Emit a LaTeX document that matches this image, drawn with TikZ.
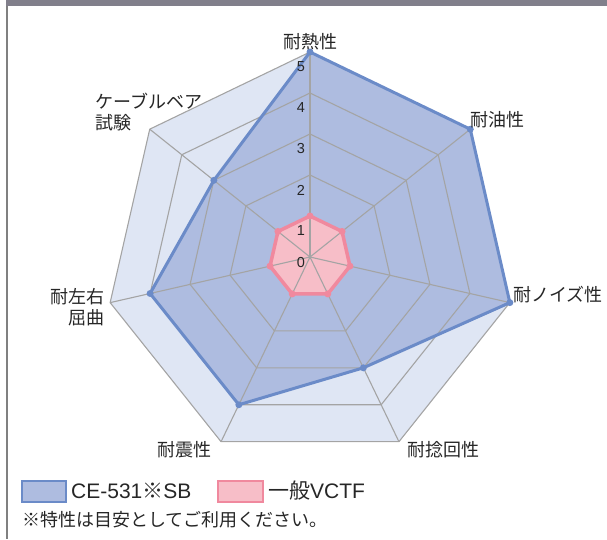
\documentclass[tikz,border=0pt]{standalone}
\usepackage{fontspec}
\setmainfont{Liberation Sans}
\newfontfamily\jp{Noto Sans CJK JP}

\definecolor{bargray}{HTML}{817F8B}
\definecolor{bandbg}{HTML}{DFE6F4}
\definecolor{gridgray}{HTML}{A4A4A4}
\definecolor{celine}{HTML}{6B8BC8}
\definecolor{cefill}{HTML}{AEBCE0}
\definecolor{vcline}{HTML}{F0899E}
\definecolor{vcfill}{HTML}{F7BEC8}

\begin{document}
\begin{tikzpicture}[x=1pt,y=1pt,
    grid/.style={gridgray,line width=1.1pt,line join=round},
    axislabel/.style={font=\jp\fontsize{18}{21}\selectfont,text=black!85,inner sep=0pt},
    ticklabel/.style={font=\fontsize{14.5}{16}\selectfont,text=black!85,inner sep=0pt},
    dot/.style={circle,inner sep=0pt,minimum size=7pt}]

    \useasboundingbox (-310,-282) rectangle (297,257);

    % frame
    \fill[bargray] (-304,251) rectangle (297,257);
    \draw[gray,line width=2pt] (-303,251) -- (-303,-282);

    % values, clockwise from the top
    \foreach \v [count=\k from 0] in {5,5,5,3,4,4,3}
        \coordinate (ce\k) at ({90-\k*360/7}:{\v*41});
    \foreach \v [count=\k from 0] in {1,1,1,1,1,1,1}
        \coordinate (vc\k) at ({90-\k*360/7}:{\v*41});

    % background and fills
    \fill[bandbg] (90:205) \foreach \k in {1,...,6} {-- ({90-\k*360/7}:205)} -- cycle;
    \fill[cefill] (ce0) -- (ce1) -- (ce2) -- (ce3) -- (ce4) -- (ce5) -- (ce6) -- cycle;
    \fill[vcfill] (vc0) -- (vc1) -- (vc2) -- (vc3) -- (vc4) -- (vc5) -- (vc6) -- cycle;

    % grid
    \foreach \r in {1,...,5}
        \draw[grid] (90:{\r*41}) \foreach \k in {1,...,6} {-- ({90-\k*360/7}:{\r*41})} -- cycle;
    \foreach \k in {0,...,6}
        \draw[grid] (0,0) -- ({90-\k*360/7}:205);

    % outlines
    \draw[celine,line width=3pt,line join=round] (ce0) -- (ce1) -- (ce2) -- (ce3) -- (ce4) -- (ce5) -- (ce6) -- cycle;
    \draw[vcline,line width=3.5pt,line join=round] (vc0) -- (vc1) -- (vc2) -- (vc3) -- (vc4) -- (vc5) -- (vc6) -- cycle;
    \foreach \k in {0,...,6} {
        \node[dot,fill=celine] (cedot\k) at (ce\k) {};
        \node[dot,fill=vcline] (vcdot\k) at (vc\k) {};
    }

    % scale
    \foreach \r in {1,...,5}
        \node[ticklabel] (tick\r) at (-9,{\r*41-15}) {\r};
    \node[ticklabel] (tick0) at (-9,-6) {0};

    % axis labels
    \node[axislabel] (heat) at (0,215) {耐熱性};
    \node[axislabel,anchor=west] (oil) at (160,137) {耐油性};
    \node[axislabel,anchor=west] (noise) at (203,-38) {耐ノイズ性};
    \node[axislabel] (twist) at (133,-193) {耐捻回性};
    \node[axislabel] (quake) at (-125,-193) {耐震性};
    \node[axislabel,anchor=east,align=right] (bend) at (-205,-50) {耐左右\\屈曲};
    \node[axislabel,anchor=west,align=left] (bear) at (-215,145) {ケーブルベア\\試験};

    % legend
    \draw[celine,fill=cefill,line width=1.2pt] (-288,-224) rectangle (-244,-245);
    \node[anchor=west,inner sep=0pt,font=\fontsize{21}{23}\selectfont,text=black!85] (celeg) at (-239,-234) {CE-531{\jp ※}SB};
    \draw[vcline,fill=vcfill,line width=1.2pt] (-92,-224) rectangle (-47,-245);
    \node[anchor=west,inner sep=0pt,font=\fontsize{21}{23}\selectfont,text=black!85] (vcleg) at (-42,-234) {{\jp 一般}VCTF};
    \node[anchor=west,inner sep=0pt,font=\jp\fontsize{18}{20}\selectfont,text=black!85] (note) at (-288,-263) {※特性は目安としてご利用ください。};

\end{tikzpicture}
\end{document}
